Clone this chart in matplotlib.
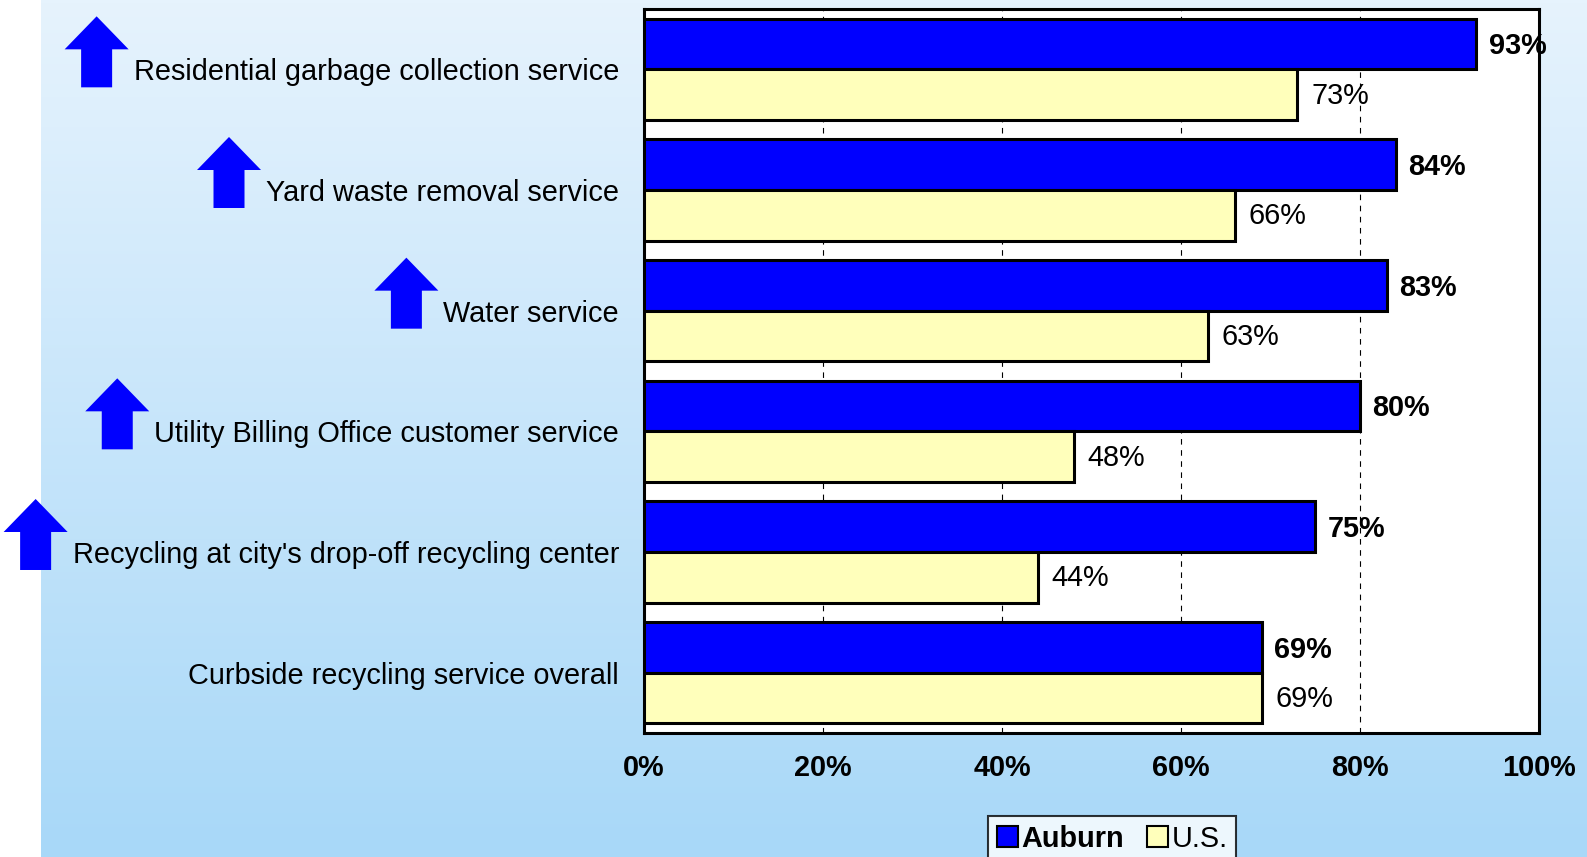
import numpy as np
import matplotlib
matplotlib.use("Agg")
import matplotlib.pyplot as plt
from matplotlib.patches import Polygon, Patch

plt.rcParams['font.family'] = ['Liberation Sans', 'DejaVu Sans']

services = [
    "Residential garbage collection service",
    "Yard waste removal service",
    "Water service",
    "Utility Billing Office customer service",
    "Recycling at city's drop-off recycling center",
    "Curbside recycling service overall",
]
auburn = [93, 84, 83, 80, 75, 69]
us = [73, 66, 63, 48, 44, 69]
# services rated above the national benchmark get an up arrow
above_us = [True, True, True, True, True, False]

BLUE = "#0000FF"
YELLOW = "#FFFFBB"
FS = 20.8

fig = plt.figure(figsize=(15.87, 8.57), dpi=100)
fig.patch.set_facecolor("white")

# light blue vertical gradient behind everything
bg = fig.add_axes([0.026, 0, 0.974, 1], zorder=-10)
grad = np.linspace(0, 1, 256).reshape(-1, 1)
top_c = np.array([0xE6, 0xF3, 0xFD]) / 255
bot_c = np.array([0xA8, 0xD8, 0xF8]) / 255
img = top_c + (bot_c - top_c) * grad[..., None]
bg.imshow(img, aspect="auto", extent=[0, 1, 0, 1], origin="upper")
bg.axis("off")

ax = fig.add_axes([0.4058, 0.1447, 0.564, 0.8448])
ax.set_facecolor("white")

y = np.arange(len(services))
h = 0.42
ax.barh(y - 0.21, auburn, height=h, color=BLUE, edgecolor="black", linewidth=2.2, zorder=3)
ax.barh(y + 0.21, us, height=h, color=YELLOW, edgecolor="black", linewidth=2.2, zorder=3)

for yi, a, u in zip(y, auburn, us):
    ax.annotate(f"{a}%", (a, yi - 0.21), xytext=(9, -1.8), textcoords="offset points",
                va="center", ha="left", fontsize=FS, fontweight="bold", zorder=4)
    ax.annotate(f"{u}%", (u, yi + 0.21), xytext=(10, -0.8), textcoords="offset points",
                va="center", ha="left", fontsize=FS, zorder=4)

ax.set_xlim(0, 100)
ax.set_ylim(len(services) - 0.5, -0.5)
ax.set_xticks(range(0, 101, 20))
ax.set_xticklabels([f"{t}%" for t in range(0, 101, 20)], fontsize=FS, fontweight="bold")
ax.set_yticks(y)
ax.set_yticklabels(services, fontsize=FS)
ax.tick_params(axis="x", length=0, pad=15)
ax.tick_params(axis="y", length=0, pad=18)
ax.grid(axis="x", color="black", linestyle=(0, (5, 5)), linewidth=0.8, zorder=0)
for s in ax.spines.values():
    s.set_linewidth(2.2)

handles = [Patch(facecolor=BLUE, edgecolor="black", linewidth=1.5),
           Patch(facecolor=YELLOW, edgecolor="black", linewidth=1.5)]
leg = fig.legend(handles, ["Auburn", "U.S."], loc="upper center",
                 bbox_to_anchor=(0.7007, 0.048), ncol=2, fontsize=FS,
                 frameon=True, fancybox=False, edgecolor="black",
                 handlelength=0.75, handleheight=0.75, handletextpad=0.1,
                 columnspacing=0.8, borderpad=0.3, borderaxespad=0)
leg.get_frame().set_linewidth(1.5)
leg.get_texts()[0].set_fontweight("bold")

# block arrows placed just left of each improved service's label
fig.canvas.draw()
W, H = fig.bbox.width, fig.bbox.height
aw, ah, head_h, shaft_w = 64, 71, 33, 31
for lab, up, yi in zip(ax.get_yticklabels(), above_us, y):
    if not up:
        continue
    bb = lab.get_window_extent()
    cy = ax.transData.transform((0, yi))[1]
    right = bb.x0 - 5
    left = right - aw
    top = cy + 53
    bottom = cy - 18
    mid = (left + right) / 2
    neck = top - head_h
    pts = [(mid, top), (right, neck), (mid + shaft_w / 2, neck),
           (mid + shaft_w / 2, bottom), (mid - shaft_w / 2, bottom),
           (mid - shaft_w / 2, neck), (left, neck)]
    pts = [(px / W, py / H) for px, py in pts]
    fig.patches.append(Polygon(pts, closed=True, facecolor=BLUE, edgecolor="none",
                               transform=fig.transFigure, figure=fig))

fig.savefig("out.png", dpi=100)
